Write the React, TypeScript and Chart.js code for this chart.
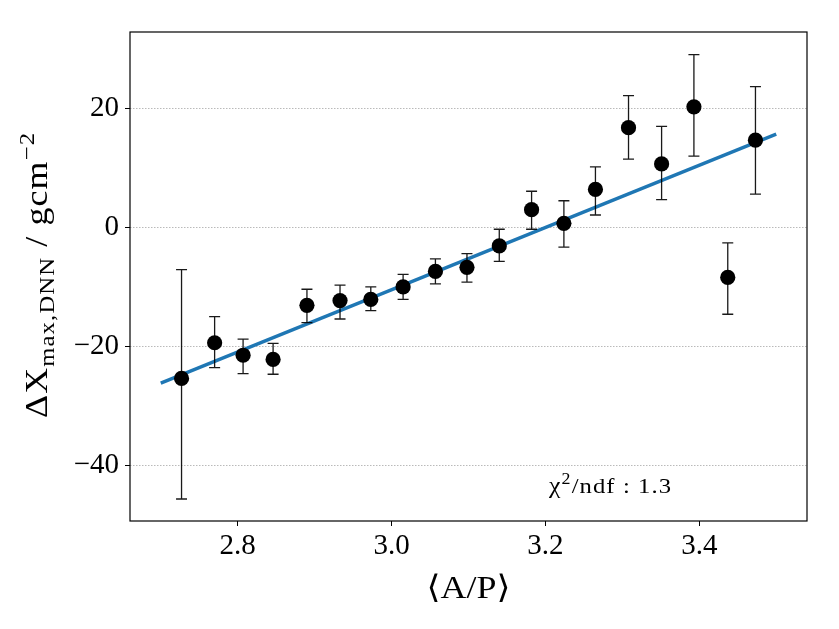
import { useEffect, useRef } from "react";
import { Chart, registerables } from "chart.js";

Chart.register(...registerables);

// <A/P> bin centres and the mean Delta Xmax per bin (g/cm^2)
const apVals = [2.727, 2.77, 2.807, 2.846, 2.89, 2.933, 2.973, 3.015, 3.057, 3.098, 3.14, 3.182, 3.224, 3.265, 3.308, 3.351, 3.393, 3.437, 3.473];
const dxVals = [-25.4, -19.4, -21.5, -22.2, -13.1, -12.3, -12.1, -10.0, -7.4, -6.7, -3.1, 3.0, 0.7, 6.4, 16.8, 10.7, 20.3, -8.4, 14.7];
const dxUpper = [-7.1, -15.0, -18.8, -19.5, -10.4, -9.7, -10.0, -7.9, -5.3, -4.4, -0.3, 6.1, 4.5, 10.2, 22.2, 17.0, 29.1, -2.6, 23.7];
const dxLower = [-45.7, -23.6, -24.6, -24.7, -16.0, -15.4, -14.0, -12.1, -9.5, -9.2, -5.7, -0.3, -3.3, 2.1, 11.5, 4.7, 12.0, -14.6, 5.6];

// linear fit
const fitX = [2.7, 3.5];
const fitY = [-26.2, 15.7];

const xTicks = [2.8, 3.0, 3.2, 3.4];
const yTicks = [-40, -20, 0, 20];
const chi2ndf = "1.3";

const FONT = '"Liberation Serif", "DejaVu Serif", serif';

type Seg = { t: string; size: number; dy: number };

// draws a run of text pieces (for sub/superscripts) at baseline y=0, widened
// to a given width (LaTeX fonts run wider than ours): a little stretch, then
// a little letter spacing
const drawRich = (ctx: CanvasRenderingContext2D, segs: Seg[], align: "left" | "center", target: number) => {
  let total = 0;
  let count = 0;
  segs.forEach((s) => {
    ctx.font = `${s.size}px ${FONT}`;
    for (const ch of s.t) {
      total += ctx.measureText(ch).width;
      count++;
    }
  });
  const k = Math.min(1.12, Math.max(1, target / total));
  const extra = Math.max(0, (target / k - total) / Math.max(1, count - 1));
  ctx.save();
  if (align === "center") ctx.translate(-target / 2, 0);
  ctx.scale(k, 1);
  let x = 0;
  ctx.textBaseline = "alphabetic";
  ctx.textAlign = "left";
  segs.forEach((s) => {
    ctx.font = `${s.size}px ${FONT}`;
    for (const ch of s.t) {
      ctx.fillText(ch, x, s.dy);
      x += ctx.measureText(ch).width + extra;
    }
  });
  ctx.restore();
};

const errorBars = {
  id: "errorBars",
  beforeDatasetDraw(chart: any, args: any) {
    if (args.index !== 1) return;
    const { ctx, scales } = chart;
    const { x, y } = scales;
    ctx.save();
    ctx.strokeStyle = "rgba(0,0,0,0.9)";
    ctx.lineWidth = 1.3;
    apVals.forEach((v, i) => {
      const px = x.getPixelForValue(v);
      const top = y.getPixelForValue(dxUpper[i]);
      const bot = y.getPixelForValue(dxLower[i]);
      ctx.beginPath();
      ctx.moveTo(px, top);
      ctx.lineTo(px, bot);
      ctx.moveTo(px - 5.5, top);
      ctx.lineTo(px + 5.5, top);
      ctx.moveTo(px - 5.5, bot);
      ctx.lineTo(px + 5.5, bot);
      ctx.stroke();
    });
    ctx.restore();
  },
};

const decorations = {
  id: "decorations",
  afterDraw(chart: any) {
    const { ctx, chartArea } = chart;
    const { left, right, top, bottom } = chartArea;
    ctx.save();

    // frame
    ctx.strokeStyle = "#000";
    ctx.lineWidth = 1.2;
    ctx.strokeRect(left, top, right - left, bottom - top);

    ctx.fillStyle = "#000";

    // y title
    ctx.save();
    ctx.translate(47, (top + bottom) / 2 - 1);
    ctx.rotate(-Math.PI / 2);
    drawRich(
      ctx,
      [
        { t: "\u0394X", size: 32, dy: 0 },
        { t: "max,DNN", size: 22, dy: 7 },
        { t: " / gcm", size: 32, dy: 0 },
        { t: "\u22122", size: 22, dy: -13 },
      ],
      "center",
      285
    );
    ctx.restore();

    // x title
    ctx.save();
    ctx.translate((left + right) / 2, 598);
    drawRich(ctx, [{ t: "\u27E8A/P\u27E9", size: 32, dy: 0 }], "center", 84);
    ctx.restore();

    // fit quality note
    ctx.save();
    ctx.translate(left + 0.619 * (right - left), bottom - 0.057 * (bottom - top));
    drawRich(
      ctx,
      [
        { t: "\u03C7", size: 23, dy: 0 },
        { t: "2", size: 16, dy: -9 },
        { t: "/ndf : " + chi2ndf, size: 22, dy: 0 },
      ],
      "left",
      122
    );
    ctx.restore();

    ctx.restore();
  },
};

const DeltaXmaxChart = () => {
  const chartRef = useRef<HTMLCanvasElement | null>(null);
  const chartInstance = useRef<Chart | null>(null);

  useEffect(() => {
    if (!chartRef.current) return;
    if (chartInstance.current) {
      chartInstance.current.destroy();
    }
    const ctx = chartRef.current.getContext("2d");
    if (!ctx) return;

    chartInstance.current = new Chart(ctx, {
      type: "scatter",
      data: {
        datasets: [
          {
            data: fitX.map((v, i) => ({ x: v, y: fitY[i] })),
            showLine: true,
            borderColor: "#1f77b4",
            borderWidth: 3.4,
            pointRadius: 0,
            order: 2,
          },
          {
            data: apVals.map((v, i) => ({ x: v, y: dxVals[i] })),
            backgroundColor: "#000",
            borderColor: "#000",
            pointRadius: 7.6,
            borderWidth: 0,
            order: 1,
          },
        ],
      },
      options: {
        animation: false,
        responsive: true,
        maintainAspectRatio: false,
        layout: { padding: { top: 32, right: 32, left: 0, bottom: 0 } },
        plugins: {
          legend: { display: false },
          tooltip: { enabled: false },
        },
        scales: {
          x: {
            type: "linear",
            min: 2.66,
            max: 3.54,
            afterBuildTicks: (scale: any) => {
              scale.ticks = xTicks.map((v) => ({ value: v }));
            },
            afterFit: (scale: any) => {
              scale.height = 108;
            },
            grid: {
              drawOnChartArea: false,
              drawTicks: true,
              tickLength: 5,
              tickColor: "#000",
              tickWidth: 1,
            },
            border: { display: false },
            ticks: {
              color: "#000",
              padding: 3,
              maxRotation: 0,
              font: { family: FONT, size: 29 },
              callback: (v: any) => Number(v).toFixed(1),
            },
          },
          y: {
            type: "linear",
            min: -49.4,
            max: 32.9,
            afterBuildTicks: (scale: any) => {
              scale.ticks = yTicks.map((v) => ({ value: v }));
            },
            afterFit: (scale: any) => {
              scale.width = 130;
            },
            grid: {
              drawOnChartArea: true,
              drawTicks: true,
              color: "#a8a8a8",
              lineWidth: 0.8,
              tickLength: 5,
              tickColor: "#000",
              tickWidth: 1,
              tickBorderDash: [],
            },
            border: { display: false, dash: [1.5, 1.5] },
            ticks: {
              color: "#000",
              padding: 6,
              font: { family: FONT, size: 29 },
              callback: (v: any) => {
                const n = Number(v);
                return n < 0 ? "\u2212" + Math.abs(n) : String(n);
              },
            },
          },
        },
      },
      plugins: [errorBars, decorations],
    });

    return () => {
      if (chartInstance.current) {
        chartInstance.current.destroy();
        chartInstance.current = null;
      }
    };
  }, []);

  return (
    <div style={{ position: "fixed", left: 0, top: 0, width: 839, height: 629, background: "#fff" }}>
      <canvas ref={chartRef} />
    </div>
  );
};

export default function App() {
  return <DeltaXmaxChart />;
}
